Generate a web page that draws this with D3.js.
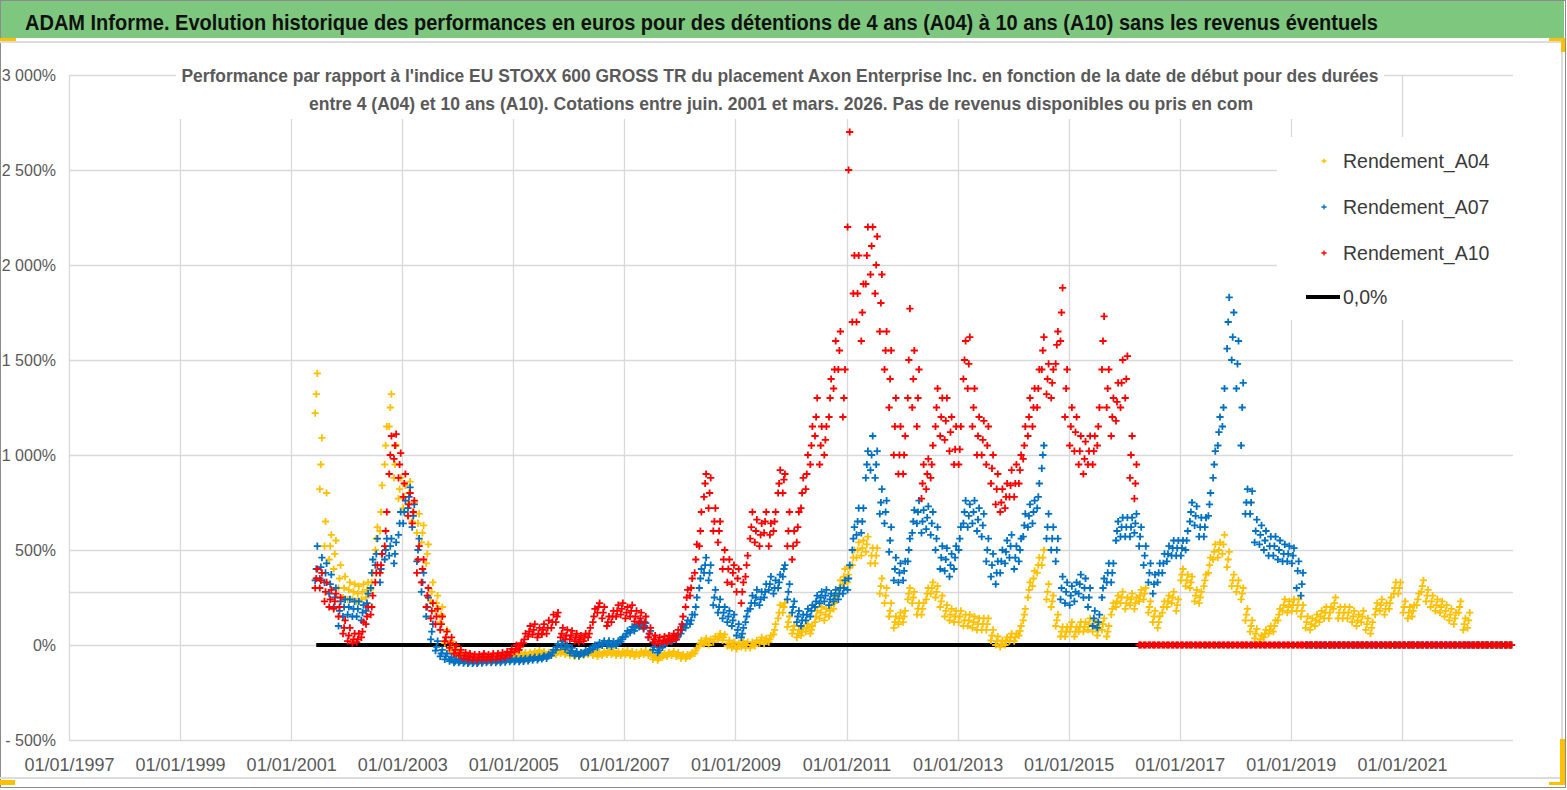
<!DOCTYPE html>
<html>
<head>
<meta charset="utf-8">
<script src="https://cdn.jsdelivr.net/npm/d3@7"></script>
<style>
  body { margin: 0; background: #fff; }
  text { font-family: "Liberation Sans Narrow", "Liberation Sans", Arial, sans-serif; }
</style>
</head>
<body>
<svg id="chart" width="1567" height="790"></svg>
<script>
//Monthly readings of the chart, first point = juin 2001
//"mid" = centre of the cloud, "haut"/"bas" = upper / lower edge of the cloud that month
var firstMonth = new Date(2001, 5, 15);

var rendementA04 = [
  1320, 950, 650, 520, 480, 350, 300,
  290, 280, 270, 280, 290, 330, 560, 700, 1050, 1250, 950, 820,
  780, 800, 700, 640, 590, 480, 280, 220, 160, 40, -10, -30,
  -50, -60, -65, -70, -70, -70, -70, -65, -65, -60, -60, -55,
  -55, -55, -50, -50, -45, -40, -45, -50, -45, -40, -35, -40,
  -45, -50, -50, -45, -40, -45, -50, -45, -40, -40, -45, -45,
  -40, -45, -50, -45, -40, -45, -65, -70, -55, -50, -45, -50,
  -60, -60, -50, -30, 10, 20, 15, 30, 45, 40, 10, 0,
  -5, 5, 0, 0, 10, 25, 20, 30, 80, 170, 200, 120,
  80, 60, 70, 90, 80, 150, 170, 160, 180, 220, 300, 360,
  370, 460, 500, 510, 530, 470, 470, 310, 260, 180, 120, 140,
  150, 270, 250, 190, 190, 270, 300, 280, 230, 180, 160, 150,
  150, 130, 130, 120, 110, 110, 110, 50, 20, 5, 20, 40,
  40, 75, 160, 290, 350, 420, 460, 280, 230, 130, 70, 70,
  95, 70, 95, 95, 110, 100, 80, 110, 70, 190, 230, 250,
  220, 240, 220, 260, 270, 200, 150, 120, 200, 230, 250, 210,
  370, 340, 330, 260, 250, 340, 420, 490, 500, 530, 450, 340,
  310, 270, 160, 100, 60, 30, 60, 80, 100, 160, 210, 200,
  210, 210, 180, 120, 110, 130, 150, 170, 170, 220, 170, 170,
  170, 150, 130, 150, 110, 90, 190, 210, 190, 220, 300, 300,
  200, 170, 180, 240, 310, 260, 230, 210, 200, 180, 160, 140,
  200, 110, 130, 0, 0, 0, 0, 0, 0, 0, 0, 0
];
var rendementA04Haut = [
  1430, 1090, 800, 580, 550, 420, 360,
  330, 320, 310, 320, 330, 380, 620, 840, 1150, 1320, 1050, 880,
  840, 860, 750, 690, 630, 530, 330, 260, 200, 80, 20, -15,
  -40, -50, -55, -60, -60, -60, -60, -55, -55, -50, -50, -45,
  -45, -45, -40, -40, -35, -30, -35, -40, -35, -30, -25, -30,
  -35, -40, -40, -35, -30, -35, -40, -35, -30, -30, -35, -35,
  -30, -35, -40, -35, -30, -35, -55, -60, -45, -40, -35, -40,
  -50, -50, -40, -15, 25, 35, 30, 45, 60, 55, 25, 15,
  10, 20, 15, 15, 25, 40, 35, 50, 110, 210, 220, 150,
  100, 80, 90, 110, 100, 180, 200, 190, 210, 250, 340, 400,
  410, 500, 540, 550, 570, 510, 510, 350, 300, 220, 150, 170,
  180, 300, 280, 220, 220, 300, 330, 310, 260, 210, 190, 180,
  180, 160, 160, 150, 140, 140, 140, 80, 45, 25, 40, 60,
  60, 100, 190, 330, 390, 460, 500, 320, 260, 160, 95, 95,
  120, 95, 120, 120, 140, 130, 110, 140, 100, 220, 260, 280,
  250, 270, 250, 290, 300, 230, 180, 150, 230, 260, 280, 240,
  400, 370, 360, 290, 280, 370, 460, 530, 540, 580, 490, 370,
  340, 300, 190, 130, 85, 50, 80, 100, 130, 190, 240, 230,
  240, 240, 210, 150, 140, 160, 180, 200, 200, 250, 200, 200,
  200, 180, 160, 180, 140, 120, 220, 240, 220, 250, 330, 330,
  230, 200, 210, 270, 340, 290, 260, 240, 230, 210, 190, 170,
  230, 140, 170, 0, 0, 0, 0, 0, 0, 0, 0, 0
];
var rendementA04Bas = [
  1220, 820, 520, 450, 400, 300, 250,
  240, 240, 230, 240, 250, 290, 500, 600, 950, 1150, 880, 770,
  720, 740, 650, 590, 540, 430, 230, 180, 120, 10, -30, -45,
  -60, -70, -75, -78, -78, -78, -78, -75, -75, -70, -70, -65,
  -65, -65, -60, -60, -55, -50, -55, -60, -55, -50, -45, -50,
  -55, -60, -60, -55, -50, -55, -60, -55, -50, -50, -55, -55,
  -50, -55, -60, -55, -50, -55, -75, -80, -65, -60, -55, -60,
  -70, -70, -60, -45, -5, 5, 0, 15, 30, 25, -5, -15,
  -20, -10, -15, -15, -5, 10, 5, 15, 55, 140, 170, 95,
  60, 40, 50, 70, 60, 120, 140, 130, 150, 190, 270, 320,
  330, 420, 460, 470, 490, 430, 430, 270, 220, 150, 90, 110,
  120, 240, 220, 160, 160, 240, 270, 250, 200, 150, 130, 120,
  120, 100, 100, 90, 80, 80, 80, 25, 0, -10, 0, 20,
  20, 50, 130, 250, 310, 380, 420, 240, 200, 100, 45, 45,
  70, 45, 70, 70, 80, 70, 50, 80, 45, 160, 200, 220,
  190, 210, 190, 230, 240, 170, 120, 90, 170, 200, 220, 180,
  340, 310, 300, 230, 220, 310, 380, 450, 460, 480, 410, 310,
  280, 240, 130, 70, 35, 15, 40, 60, 70, 130, 180, 170,
  180, 180, 150, 90, 80, 100, 120, 140, 140, 190, 140, 140,
  140, 120, 100, 120, 80, 60, 160, 180, 160, 190, 270, 270,
  170, 140, 150, 210, 280, 230, 200, 180, 170, 150, 130, 110,
  170, 80, 90, 0, 0, 0, 0, 0, 0, 0, 0, 0
];

var rendementA07 = [
  400, 410, 380, 320, 250, 180, 200,
  200, 190, 190, 170, 220, 380, 480, 400, 500, 520, 480, 640,
  700, 780, 680, 500, 330, 200, 70, -10, -45, -60, -75, -85,
  -85, -88, -90, -90, -90, -88, -85, -85, -85, -85, -82, -80,
  -80, -80, -78, -75, -72, -70, -65, -60, -40, -10, 5, -10,
  -30, -45, -50, -40, -30, -10, 0, 10, 10, 5, 10, 30,
  60, 80, 90, 110, 100, 60, -10, -30, 0, 20, 30, 40,
  80, 110, 130, 200, 350, 420, 380, 250, 200, 170, 150, 130,
  80, 60, 150, 220, 250, 240, 280, 320, 300, 330, 400, 280,
  200, 150, 130, 160, 180, 230, 250, 260, 240, 260, 270, 300,
  350, 560, 650, 650, 950, 1000, 950, 750, 700, 550, 400, 380,
  390, 500, 650, 700, 650, 670, 640, 560, 460, 450, 420, 460,
  560, 700, 680, 700, 660, 630, 500, 420, 380, 440, 490, 520,
  460, 500, 630, 680, 700, 780, 1000, 620, 560, 500, 300, 280,
  260, 280, 320, 300, 250, 140, 120, 300, 380, 380, 600, 620,
  620, 620, 640, 570, 470, 380, 320, 380, 430, 480, 510, 510,
  510, 550, 700, 680, 620, 620, 740, 950, 1120, 1250, 1700, 1620,
  1480, 1250, 750, 750, 600, 580, 550, 520, 520, 500, 480, 480,
  470, 390, 320, 0, 0, 0, 0, 0, 0, 0, 0, 0,
  0, 0, 0, 0, 0, 0, 0, 0, 0, 0, 0, 0,
  0, 0, 0, 0, 0, 0, 0, 0, 0, 0, 0, 0,
  0, 0, 0, 0, 0, 0, 0, 0, 0, 0, 0, 0
];
var rendementA07Haut = [
  520, 460, 430, 370, 300, 230, 240,
  240, 230, 230, 210, 270, 450, 560, 480, 560, 560, 540, 700,
  760, 830, 740, 560, 380, 250, 110, 20, -25, -45, -65, -75,
  -75, -80, -82, -82, -82, -80, -77, -77, -77, -77, -74, -72,
  -72, -72, -70, -67, -64, -62, -57, -50, -25, 5, 20, 0,
  -15, -35, -40, -30, -20, 0, 12, 22, 22, 18, 22, 42,
  75, 95, 105, 125, 115, 75, 5, -15, 12, 32, 42, 55,
  100, 130, 160, 250, 400, 460, 420, 290, 240, 200, 180, 160,
  110, 90, 180, 260, 290, 280, 320, 360, 340, 370, 420, 320,
  230, 180, 160, 190, 210, 260, 280, 290, 270, 290, 300, 340,
  420, 620, 720, 720, 1020, 1100, 1020, 820, 760, 620, 460, 430,
  440, 560, 710, 760, 710, 730, 700, 620, 520, 510, 480, 520,
  620, 760, 740, 760, 720, 690, 560, 480, 440, 500, 550, 580,
  520, 560, 690, 740, 760, 850, 1050, 690, 620, 560, 360, 330,
  310, 330, 370, 350, 300, 180, 160, 350, 430, 430, 650, 670,
  670, 670, 690, 620, 520, 430, 370, 430, 480, 520, 550, 550,
  550, 600, 750, 730, 670, 670, 800, 1020, 1200, 1350, 1830, 1750,
  1600, 1380, 820, 810, 660, 630, 600, 570, 570, 550, 530, 520,
  510, 440, 380, 0, 0, 0, 0, 0, 0, 0, 0, 0,
  0, 0, 0, 0, 0, 0, 0, 0, 0, 0, 0, 0,
  0, 0, 0, 0, 0, 0, 0, 0, 0, 0, 0, 0,
  0, 0, 0, 0, 0, 0, 0, 0, 0, 0, 0, 0
];
var rendementA07Bas = [
  340, 350, 330, 270, 200, 100, 150,
  160, 150, 150, 130, 180, 300, 420, 330, 450, 470, 430, 580,
  640, 720, 620, 440, 280, 150, 30, -30, -60, -75, -85, -93,
  -93, -96, -97, -97, -97, -95, -93, -93, -93, -93, -90, -88,
  -88, -88, -86, -83, -80, -78, -73, -70, -55, -25, -10, -22,
  -42, -55, -58, -50, -40, -22, -12, -2, -2, -8, -2, 18,
  45, 65, 75, 95, 85, 40, -25, -40, -12, 8, 18, 28,
  60, 90, 110, 160, 300, 380, 340, 210, 170, 140, 120, 100,
  50, 40, 120, 190, 220, 210, 250, 290, 270, 300, 360, 240,
  170, 120, 100, 130, 150, 200, 220, 230, 210, 230, 240, 270,
  290, 500, 580, 590, 880, 920, 880, 690, 640, 490, 340, 330,
  340, 440, 590, 640, 590, 610, 580, 500, 400, 390, 360, 400,
  500, 640, 620, 640, 600, 570, 440, 360, 320, 380, 430, 460,
  400, 440, 570, 620, 640, 720, 930, 560, 500, 440, 240, 220,
  210, 230, 270, 250, 200, 100, 90, 250, 330, 330, 550, 570,
  570, 570, 590, 520, 420, 330, 270, 330, 380, 440, 470, 470,
  470, 500, 650, 630, 570, 570, 680, 880, 1050, 1150, 1560, 1500,
  1350, 1050, 690, 690, 540, 530, 500, 470, 470, 450, 440, 440,
  430, 300, 260, 0, 0, 0, 0, 0, 0, 0, 0, 0,
  0, 0, 0, 0, 0, 0, 0, 0, 0, 0, 0, 0,
  0, 0, 0, 0, 0, 0, 0, 0, 0, 0, 0, 0,
  0, 0, 0, 0, 0, 0, 0, 0, 0, 0, 0, 0
];

var rendementA10 = [
  350, 340, 280, 240, 230, 200, 90,
  50, 30, 30, 70, 150, 200, 380, 420, 600, 1000, 1050, 950,
  850, 740, 700, 450, 400, 260, 180, 150, 110, 40, 10, -25,
  -40, -55, -60, -65, -65, -60, -65, -60, -60, -55, -50, -40,
  -20, -10, 30, 70, 80, 60, 80, 90, 120, 150, 60, 50,
  50, 40, 30, 40, 60, 150, 200, 170, 120, 150, 180, 190,
  170, 180, 150, 140, 120, 60, 30, 20, 25, 30, 40, 50,
  110, 250, 300, 450, 600, 850, 800, 650, 600, 450, 400, 380,
  350, 280, 420, 620, 600, 580, 650, 580, 650, 850, 870, 600,
  520, 620, 800, 900, 1050, 1200, 1050, 1080, 1300, 1450, 1550, 1300,
  2500, 1850, 1850, 1750, 2050, 2100, 2000, 1800, 1550, 1400, 1150, 1000,
  1000, 1500, 1400, 1300, 850, 900, 950, 1250, 1200, 1180, 1120, 1030,
  1030, 1500, 1480, 1250, 1100, 1080, 1050, 930, 820, 750, 780, 840,
  850, 920, 1050, 1200, 1250, 1350, 1550, 1400, 1380, 1580, 1750, 1350,
  1150, 1120, 1020, 980, 1020, 1020, 1150, 1600, 1350, 1200, 1280, 1380,
  1400, 1000, 850, 0, 0, 0, 0, 0, 0, 0, 0, 0,
  0, 0, 0, 0, 0, 0, 0, 0, 0, 0, 0, 0,
  0, 0, 0, 0, 0, 0, 0, 0, 0, 0, 0, 0,
  0, 0, 0, 0, 0, 0, 0, 0, 0, 0, 0, 0,
  0, 0, 0, 0, 0, 0, 0, 0, 0, 0, 0, 0,
  0, 0, 0, 0, 0, 0, 0, 0, 0, 0, 0, 0,
  0, 0, 0, 0, 0, 0, 0, 0, 0, 0, 0, 0
];
var rendementA10Haut = [
  400, 380, 330, 290, 270, 250, 130,
  90, 60, 60, 120, 200, 260, 420, 480, 700, 1100, 1110, 1010,
  900, 800, 760, 520, 450, 300, 220, 190, 150, 70, 40, 0,
  -25, -40, -45, -50, -50, -45, -50, -45, -45, -40, -35, -20,
  0, 10, 60, 100, 110, 90, 110, 130, 160, 170, 90, 80,
  75, 60, 50, 60, 90, 190, 220, 200, 150, 180, 210, 220,
  200, 210, 180, 170, 150, 90, 50, 40, 45, 50, 60, 80,
  150, 290, 350, 530, 700, 900, 880, 720, 650, 500, 450, 420,
  400, 330, 470, 700, 660, 640, 700, 640, 700, 920, 900, 700,
  600, 700, 880, 1000, 1150, 1300, 1150, 1150, 1400, 1600, 1650, 1450,
  2700, 2050, 2050, 1900, 2200, 2200, 2150, 1950, 1650, 1550, 1300, 1150,
  1100, 1770, 1550, 1450, 950, 980, 1050, 1350, 1300, 1300, 1200, 1150,
  1150, 1600, 1620, 1350, 1200, 1180, 1150, 1000, 900, 820, 850, 920,
  950, 1000, 1150, 1300, 1350, 1450, 1620, 1480, 1450, 1650, 1880, 1450,
  1250, 1200, 1100, 1070, 1100, 1100, 1250, 1730, 1450, 1300, 1380, 1500,
  1520, 1100, 950, 0, 0, 0, 0, 0, 0, 0, 0, 0,
  0, 0, 0, 0, 0, 0, 0, 0, 0, 0, 0, 0,
  0, 0, 0, 0, 0, 0, 0, 0, 0, 0, 0, 0,
  0, 0, 0, 0, 0, 0, 0, 0, 0, 0, 0, 0,
  0, 0, 0, 0, 0, 0, 0, 0, 0, 0, 0, 0,
  0, 0, 0, 0, 0, 0, 0, 0, 0, 0, 0, 0,
  0, 0, 0, 0, 0, 0, 0, 0, 0, 0, 0, 0
];
var rendementA10Bas = [
  300, 300, 230, 200, 190, 150, 60,
  20, 10, 15, 40, 110, 160, 330, 380, 520, 900, 980, 880,
  780, 680, 640, 380, 330, 200, 140, 110, 80, 20, -15, -45,
  -55, -70, -75, -78, -80, -75, -78, -75, -75, -70, -65, -55,
  -35, -25, 10, 45, 55, 40, 55, 60, 90, 120, 40, 30,
  30, 20, 15, 20, 40, 120, 170, 140, 100, 120, 150, 160,
  140, 150, 125, 115, 90, 40, 15, 5, 10, 15, 20, 30,
  80, 200, 260, 380, 520, 780, 720, 600, 540, 400, 330, 320,
  280, 220, 360, 560, 540, 520, 590, 520, 600, 800, 800, 520,
  450, 540, 720, 820, 950, 1100, 950, 1000, 1200, 1350, 1450, 1200,
  2200, 1700, 1700, 1600, 1900, 1950, 1850, 1650, 1450, 1250, 1000, 900,
  900, 1300, 1250, 1150, 770, 820, 880, 1150, 1100, 1080, 1020, 950,
  950, 1400, 1350, 1150, 1000, 1000, 950, 850, 740, 700, 720, 780,
  780, 850, 980, 1100, 1150, 1250, 1450, 1320, 1300, 1480, 1600, 1200,
  1050, 1020, 950, 900, 950, 950, 1050, 1450, 1250, 1100, 1180, 1250,
  1300, 880, 770, 0, 0, 0, 0, 0, 0, 0, 0, 0,
  0, 0, 0, 0, 0, 0, 0, 0, 0, 0, 0, 0,
  0, 0, 0, 0, 0, 0, 0, 0, 0, 0, 0, 0,
  0, 0, 0, 0, 0, 0, 0, 0, 0, 0, 0, 0,
  0, 0, 0, 0, 0, 0, 0, 0, 0, 0, 0, 0,
  0, 0, 0, 0, 0, 0, 0, 0, 0, 0, 0, 0,
  0, 0, 0, 0, 0, 0, 0, 0, 0, 0, 0, 0
];

var seriesNames = ["Rendement_A04", "Rendement_A07", "Rendement_A10"];
var seriesColors = ["#FFC000", "#0070C0", "#FF0000"];
var zeroName = "0,0%";
var zeroLevel = 0;
//extra grey horizontal line seen in the picture
var referenceLevel = 280;

var yTickValues = [-500, 0, 500, 1000, 1500, 2000, 2500, 3000];
var xTickYears = [1997, 1999, 2001, 2003, 2005, 2007, 2009, 2011, 2013, 2015, 2017, 2019, 2021];
var xDomainYears = [1997, 2023];

var mainTitle = "ADAM Informe. Evolution historique des performances en euros pour des détentions de 4 ans (A04) à 10 ans (A10) sans les revenus éventuels";
var subTitle1 = "Performance par rapport à l'indice EU STOXX 600 GROSS TR  du placement Axon Enterprise Inc. en fonction de la date de début pour des durées";
var subTitle2 = "entre 4 (A04) et 10 ans (A10). Cotations entre juin. 2001 et mars. 2026. Pas de revenus disponibles ou pris en com";

var svg = d3.select("#chart");
var plot = {left: 69, right: 1513, top: 75, bottom: 740};

var months = d3.range(rendementA04.length).map(function(i) { return d3.timeMonth.offset(firstMonth, i); });

var x = d3.scaleTime()
  .domain([new Date(xDomainYears[0], 0, 1), new Date(xDomainYears[1], 0, 1)])
  .range([plot.left, plot.right]);

var y = d3.scaleLinear()
  .domain([-500, 3000])
  .range([plot.bottom, plot.top]);

//Frame and green banner
svg.append("rect").attr("x", 0.5).attr("y", 0.5).attr("width", 1565).attr("height", 787)
  .attr("fill", "#fff").attr("stroke", "#8c8c8c");
svg.append("rect").attr("x", 1).attr("y", 1).attr("width", 1563).attr("height", 37).attr("fill", "#7dc87e");
svg.append("path").attr("d", "M0,42H1562V778H0").attr("fill", "none").attr("stroke", "#dcdcdc").attr("stroke-width", 2);

var accents = [[0, 38, 16, 3], [1549, 38, 16, 3], [1561, 38, 4, 14], [1560, 739, 5, 46], [1549, 782, 16, 3], [0, 780, 15, 5]];
svg.selectAll(".accent").data(accents).enter().append("rect")
  .attr("x", function(d) { return d[0]; }).attr("y", function(d) { return d[1]; })
  .attr("width", function(d) { return d[2]; }).attr("height", function(d) { return d[3]; })
  .attr("fill", "#FFC000");

svg.append("text")
  .attr("x", 25).attr("y", 30)
  .attr("textLength", 1353).attr("lengthAdjust", "spacingAndGlyphs")
  .attr("font-size", 22).attr("font-weight", "bold").attr("fill", "#111")
  .text(mainTitle);

//Gridlines
var grid = svg.append("g").attr("stroke", "#d9d9d9").attr("stroke-width", 1.3);
grid.selectAll(".hgrid").data(yTickValues.concat([referenceLevel])).enter().append("line")
  .attr("x1", plot.left).attr("x2", plot.right)
  .attr("y1", function(d) { return Math.round(y(d)) + 0.5; })
  .attr("y2", function(d) { return Math.round(y(d)) + 0.5; });
grid.selectAll(".vgrid").data(xTickYears).enter().append("line")
  .attr("y1", plot.top).attr("y2", plot.bottom)
  .attr("x1", function(d) { return Math.round(x(new Date(d, 0, 1))) + 0.5; })
  .attr("x2", function(d) { return Math.round(x(new Date(d, 0, 1))) + 0.5; });

//Y axis labels
function formatPct(v) {
  var s = d3.format(",")(Math.abs(v)).replace(/,/g, " ") + "%";
  return v < 0 ? "- " + s : s;
}
var yAxis = d3.axisLeft(y).tickValues(yTickValues).tickFormat(formatPct).tickSize(0).tickPadding(0);
svg.append("g")
  .attr("transform", "translate(56,0)")
  .call(yAxis)
  .call(function(g) { g.select(".domain").remove(); })
  .selectAll("text")
  .attr("font-size", 16).attr("fill", "#595959")
  .style("font-family", "'Liberation Sans Narrow', 'Liberation Sans', sans-serif");

//X axis labels
var xAxis = d3.axisBottom(x)
  .tickValues(xTickYears.map(function(d) { return new Date(d, 0, 1); }))
  .tickFormat(d3.timeFormat("%d/%m/%Y")).tickSize(0).tickPadding(0);
svg.append("g")
  .attr("transform", "translate(0,758)")
  .call(xAxis)
  .call(function(g) { g.select(".domain").remove(); })
  .selectAll("text")
  .attr("font-size", 18).attr("fill", "#595959")
  .style("font-family", "'Liberation Sans Narrow', 'Liberation Sans', sans-serif");

//Subtitle box
svg.append("rect").attr("x", 176).attr("y", 58).attr("width", 1208).attr("height", 61).attr("fill", "#fff");
svg.append("text").attr("x", 780).attr("y", 82).attr("text-anchor", "middle")
  .attr("textLength", 1197).attr("lengthAdjust", "spacingAndGlyphs")
  .attr("font-size", 19).attr("font-weight", "bold").attr("fill", "#595959")
  .text(subTitle1);
svg.append("text").attr("x", 781).attr("y", 110).attr("text-anchor", "middle")
  .attr("textLength", 944).attr("lengthAdjust", "spacingAndGlyphs")
  .attr("font-size", 19).attr("font-weight", "bold").attr("fill", "#595959")
  .text(subTitle2);

//Zero line series
svg.append("path")
  .datum([months[0], months[months.length - 1]])
  .attr("d", d3.line().x(function(d) { return x(d); }).y(function() { return y(zeroLevel); }))
  .attr("stroke", "#000").attr("stroke-width", 4).attr("fill", "none");

//Scatter series, plus markers; low readings placed early in the month, high ones late
var plusPath = "M-3.6,0H3.6M0,-3.6V3.6";
var allSeries = [
  {mid: rendementA04, haut: rendementA04Haut, bas: rendementA04Bas},
  {mid: rendementA07, haut: rendementA07Haut, bas: rendementA07Bas},
  {mid: rendementA10, haut: rendementA10Haut, bas: rendementA10Bas}
];

function monthPoints(values, dayShift) {
  return values.map(function(v, i) {
    return {date: d3.timeDay.offset(months[i], dayShift), value: v};
  });
}

allSeries.forEach(function(s, k) {
  var pts = monthPoints(s.bas, -7).concat(monthPoints(s.mid, 0), monthPoints(s.haut, 7));
  svg.append("g")
    .attr("stroke", seriesColors[k]).attr("stroke-width", 1.8).attr("fill", "none")
    .selectAll("path")
    .data(pts)
    .enter().append("path")
    .attr("d", plusPath)
    .attr("transform", function(d) { return "translate(" + x(d.date).toFixed(1) + "," + y(d.value).toFixed(1) + ")"; });
});

//Legend
var legend = svg.append("g");
legend.append("rect").attr("x", 1277).attr("y", 137).attr("width", 240).attr("height", 183).attr("fill", "#fff");
var legendRows = seriesNames.concat([zeroName]);
var legendY = [161, 207, 253, 297];
var item = legend.selectAll(".item").data(legendRows).enter().append("g")
  .attr("transform", function(d, i) { return "translate(0," + legendY[i] + ")"; });
item.filter(function(d, i) { return i < 3; }).append("path")
  .attr("d", "M-2.6,0H2.6M0,-2.6V2.6")
  .attr("transform", "translate(1324,0)")
  .attr("stroke", function(d, i) { return seriesColors[i]; }).attr("stroke-width", 1.3);
item.filter(function(d, i) { return i == 3; }).append("line")
  .attr("x1", 1306).attr("x2", 1340).attr("stroke", "#000").attr("stroke-width", 4);
item.append("text")
  .attr("x", 1343).attr("dy", "0.35em")
  .attr("font-size", 19.5).attr("fill", "#3a3a3a")
  .style("font-family", "'Liberation Sans', Arial, sans-serif")
  .text(function(d) { return d; });
</script>
</body>
</html>
